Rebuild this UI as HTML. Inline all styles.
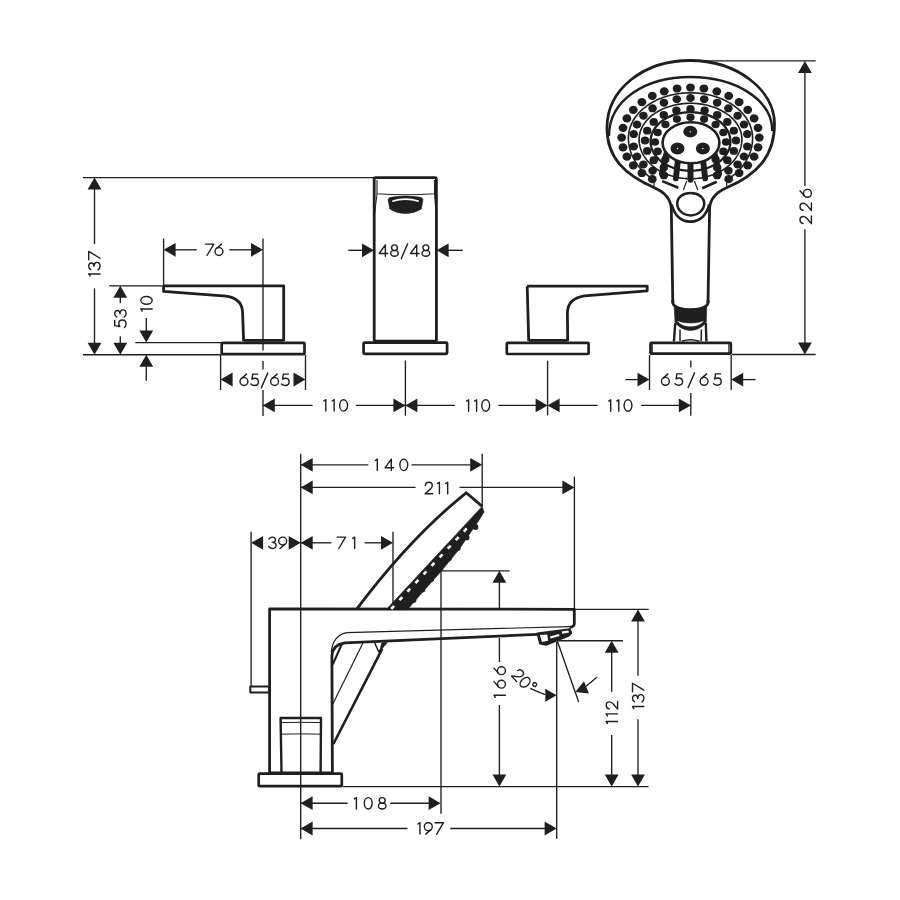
<!DOCTYPE html>
<html><head><meta charset="utf-8"><style>
html,body{margin:0;padding:0;background:#fff;}
svg{display:block;}
text{font-family:"Liberation Sans",sans-serif;fill:#1f1f1f;}
</style></head><body>
<svg width="900" height="900" viewBox="0 0 900 900" stroke-linecap="butt" stroke-linejoin="round">
<rect width="900" height="900" fill="#fff"/>
<line x1="83.0" y1="177.6" x2="374.0" y2="177.6" stroke-width="1.35" stroke="#1f1f1f"/>
<line x1="83.0" y1="354.7" x2="221.0" y2="354.7" stroke-width="1.35" stroke="#1f1f1f"/>
<line x1="94.5" y1="189.0" x2="94.5" y2="244.2" stroke-width="1.35" stroke="#1f1f1f"/>
<line x1="94.5" y1="288.3" x2="94.5" y2="343.0" stroke-width="1.35" stroke="#1f1f1f"/>
<polygon points="94.5,177.6 87.6,189.6 101.4,189.6" fill="#1f1f1f"/>
<polygon points="94.5,354.7 87.6,342.7 101.4,342.7" fill="#1f1f1f"/>
<g transform="translate(94.40,263.70) rotate(-90) translate(0,5.70)" fill="none" stroke="#1f1f1f" stroke-width="1.4" stroke-linecap="round" stroke-linejoin="round"><g transform="translate(-12.25,0)"><path d="M0,-10.1 L2,-11.4 L2,0"/></g><g transform="translate(-6.10,0)"><path d="M0.3,-9.4 C0.9,-10.8 2.2,-11.4 3.7,-11.4 C5.6,-11.4 6.8,-10.1 6.8,-8.6 C6.8,-7 5.5,-6.1 3.5,-6.1 C5.9,-6.1 7.4,-4.8 7.4,-3.1 C7.4,-1.1 5.8,0 3.7,0 C2,0 0.7,-0.8 0,-2.1"/></g><g transform="translate(3.85,0)"><path d="M0,-11.4 L8.4,-11.4 L1.6,0"/></g></g>
<line x1="109.2" y1="285.8" x2="164.0" y2="285.8" stroke-width="1.35" stroke="#1f1f1f"/>
<line x1="120.3" y1="297.0" x2="120.3" y2="303.3" stroke-width="1.35" stroke="#1f1f1f"/>
<line x1="120.3" y1="336.3" x2="120.3" y2="343.0" stroke-width="1.35" stroke="#1f1f1f"/>
<polygon points="120.3,285.8 113.4,297.8 127.2,297.8" fill="#1f1f1f"/>
<polygon points="120.3,354.7 113.4,342.7 127.2,342.7" fill="#1f1f1f"/>
<g transform="translate(120.40,318.70) rotate(-90) translate(0,5.70)" fill="none" stroke="#1f1f1f" stroke-width="1.4" stroke-linecap="round" stroke-linejoin="round"><g transform="translate(-8.85,0)"><path d="M7,-11.4 L1.9,-11.4 L1.1,-6.3 C1.9,-6.9 3,-7.3 4,-7.3 C6.1,-7.3 7.6,-5.8 7.6,-3.7 C7.6,-1.5 6,0 3.8,0 C2.3,0 1,-0.6 0,-1.6"/></g><g transform="translate(1.45,0)"><path d="M0.3,-9.4 C0.9,-10.8 2.2,-11.4 3.7,-11.4 C5.6,-11.4 6.8,-10.1 6.8,-8.6 C6.8,-7 5.5,-6.1 3.5,-6.1 C5.9,-6.1 7.4,-4.8 7.4,-3.1 C7.4,-1.1 5.8,0 3.7,0 C2,0 0.7,-0.8 0,-2.1"/></g></g>
<line x1="135.3" y1="342.6" x2="221.0" y2="342.6" stroke-width="1.35" stroke="#1f1f1f"/>
<line x1="146.3" y1="318.0" x2="146.3" y2="331.0" stroke-width="1.35" stroke="#1f1f1f"/>
<polygon points="146.3,342.6 139.4,330.6 153.2,330.6" fill="#1f1f1f"/>
<polygon points="146.3,354.7 139.4,366.7 153.2,366.7" fill="#1f1f1f"/>
<line x1="146.3" y1="366.0" x2="146.3" y2="380.8" stroke-width="1.35" stroke="#1f1f1f"/>
<g transform="translate(146.50,303.70) rotate(-90) translate(0,5.70)" fill="none" stroke="#1f1f1f" stroke-width="1.4" stroke-linecap="round" stroke-linejoin="round"><g transform="translate(-7.25,0)"><path d="M0,-10.1 L2,-11.4 L2,0"/></g><g transform="translate(-0.55,0)"><ellipse cx="3.9" cy="-5.7" rx="3.9" ry="5.7"/></g></g>
<line x1="163.6" y1="238.5" x2="163.6" y2="286.0" stroke-width="1.35" stroke="#1f1f1f"/>
<line x1="263.0" y1="238.5" x2="263.0" y2="350.6" stroke-width="1.35" stroke="#1f1f1f"/>
<line x1="263.0" y1="361.0" x2="263.0" y2="369.4" stroke-width="1.35" stroke="#1f1f1f"/>
<line x1="263.0" y1="390.0" x2="263.0" y2="416.0" stroke-width="1.35" stroke="#1f1f1f"/>
<polygon points="163.6,249.8 175.6,242.9 175.6,256.7" fill="#1f1f1f"/>
<polygon points="263.0,249.8 251.0,242.9 251.0,256.7" fill="#1f1f1f"/>
<line x1="175.0" y1="249.8" x2="196.8" y2="249.8" stroke-width="1.35" stroke="#1f1f1f"/>
<line x1="229.3" y1="249.8" x2="251.5" y2="249.8" stroke-width="1.35" stroke="#1f1f1f"/>
<g transform="translate(214.20,255.50)" fill="none" stroke="#1f1f1f" stroke-width="1.4" stroke-linecap="round" stroke-linejoin="round"><g transform="translate(-8.75,0)"><path d="M0,-11.4 L8.4,-11.4 L1.6,0"/></g><g transform="translate(0.75,0)"><path d="M6.6,-11.4 L1.42,-6.94"/><circle cx="4.0" cy="-3.95" r="3.95"/></g></g>
<path d="M163.6,285.8 L283.7,285.8 L283.7,341 M163.6,285.8 L163.6,291.4 L226,296.2 Q242.4,298.5 242.6,313 L243.6,341 M243.6,340.3 L283.7,340.3" stroke="#1f1f1f" stroke-width="2.8" fill="none" />
<rect x="221.7" y="342.8" width="82.8" height="11.4" rx="1" fill="none" stroke="#1f1f1f" stroke-width="2.7"/>
<line x1="220.6" y1="355.0" x2="220.6" y2="390.0" stroke-width="1.35" stroke="#1f1f1f"/>
<line x1="305.5" y1="355.0" x2="305.5" y2="390.0" stroke-width="1.35" stroke="#1f1f1f"/>
<polygon points="220.6,379.5 232.6,372.6 232.6,386.4" fill="#1f1f1f"/>
<polygon points="305.5,379.5 293.5,372.6 293.5,386.4" fill="#1f1f1f"/>
<g transform="translate(264.50,385.50)" fill="none" stroke="#1f1f1f" stroke-width="1.4" stroke-linecap="round" stroke-linejoin="round"><g transform="translate(-24.55,0)"><path d="M6.6,-11.4 L1.42,-6.94"/><circle cx="4.0" cy="-3.95" r="3.95"/></g><g transform="translate(-13.68,0)"><path d="M7,-11.4 L1.9,-11.4 L1.1,-6.3 C1.9,-6.9 3,-7.3 4,-7.3 C6.1,-7.3 7.6,-5.8 7.6,-3.7 C7.6,-1.5 6,0 3.8,0 C2.3,0 1,-0.6 0,-1.6"/></g><g transform="translate(-3.20,0)"><path d="M0,2.4 L6.4,-12.4"/></g><g transform="translate(6.07,0)"><path d="M6.6,-11.4 L1.42,-6.94"/><circle cx="4.0" cy="-3.95" r="3.95"/></g><g transform="translate(16.95,0)"><path d="M7,-11.4 L1.9,-11.4 L1.1,-6.3 C1.9,-6.9 3,-7.3 4,-7.3 C6.1,-7.3 7.6,-5.8 7.6,-3.7 C7.6,-1.5 6,0 3.8,0 C2.3,0 1,-0.6 0,-1.6"/></g></g>
<line x1="262.6" y1="405.4" x2="312.6" y2="405.4" stroke-width="1.35" stroke="#1f1f1f"/>
<line x1="355.8" y1="405.4" x2="454.9" y2="405.4" stroke-width="1.35" stroke="#1f1f1f"/>
<line x1="498.3" y1="405.4" x2="597.7" y2="405.4" stroke-width="1.35" stroke="#1f1f1f"/>
<line x1="641.0" y1="405.4" x2="690.8" y2="405.4" stroke-width="1.35" stroke="#1f1f1f"/>
<polygon points="262.8,405.4 274.8,398.5 274.8,412.3" fill="#1f1f1f"/>
<polygon points="405.4,405.4 393.4,398.5 393.4,412.3" fill="#1f1f1f"/>
<polygon points="405.4,405.4 417.4,398.5 417.4,412.3" fill="#1f1f1f"/>
<polygon points="547.6,405.4 535.6,398.5 535.6,412.3" fill="#1f1f1f"/>
<polygon points="547.6,405.4 559.6,398.5 559.6,412.3" fill="#1f1f1f"/>
<polygon points="690.8,405.4 678.8,398.5 678.8,412.3" fill="#1f1f1f"/>
<g transform="translate(335.65,411.10)" fill="none" stroke="#1f1f1f" stroke-width="1.4" stroke-linecap="round" stroke-linejoin="round"><g transform="translate(-11.85,0)"><path d="M0,-10.1 L2,-11.4 L2,0"/></g><g transform="translate(-3.50,0)"><path d="M0,-10.1 L2,-11.4 L2,0"/></g><g transform="translate(4.05,0)"><ellipse cx="3.9" cy="-5.7" rx="3.9" ry="5.7"/></g></g>
<g transform="translate(478.10,411.20)" fill="none" stroke="#1f1f1f" stroke-width="1.4" stroke-linecap="round" stroke-linejoin="round"><g transform="translate(-11.50,0)"><path d="M0,-10.1 L2,-11.4 L2,0"/></g><g transform="translate(-3.50,0)"><path d="M0,-10.1 L2,-11.4 L2,0"/></g><g transform="translate(3.70,0)"><ellipse cx="3.9" cy="-5.7" rx="3.9" ry="5.7"/></g></g>
<g transform="translate(620.30,411.20)" fill="none" stroke="#1f1f1f" stroke-width="1.4" stroke-linecap="round" stroke-linejoin="round"><g transform="translate(-11.60,0)"><path d="M0,-10.1 L2,-11.4 L2,0"/></g><g transform="translate(-3.50,0)"><path d="M0,-10.1 L2,-11.4 L2,0"/></g><g transform="translate(3.80,0)"><ellipse cx="3.9" cy="-5.7" rx="3.9" ry="5.7"/></g></g>
<path d="M374.2,341.3 L374.2,179 Q374.2,177.6 375.6,177.6 L435,177.6 Q436.4,177.6 436.4,179 L436.4,341.3" stroke="#1f1f1f" stroke-width="2.8" fill="none" />
<path d="M377,180 L377,193.8 Q405.3,195.6 434.5,193.8 L434.5,180" stroke="#1f1f1f" stroke-width="1.1" fill="none" />
<path d="M377,193.8 L374.6,214 M434.5,193.8 L436,214" stroke="#1f1f1f" stroke-width="1.0" fill="none" />
<path d="M388,199.5 Q388.5,197.6 392,197.1 Q405.5,195 419,197.1 Q422.5,197.6 423,199.5 L422.3,203.5 L421.3,209 Q414,213.6 405.5,213.6 Q397,213.6 389.8,209 L388.8,203.5 Z" stroke="#1f1f1f" stroke-width="0.6" fill="#1f1f1f" />
<path d="M392.3,201.3 Q405.5,196.8 418.7,201.3" stroke="#fff" stroke-width="1.7" fill="none" />
<rect x="363.6" y="342.6" width="83.5" height="11.2" rx="1" fill="none" stroke="#1f1f1f" stroke-width="2.7"/>
<path d="M374.2,341 L436.4,341" stroke="#1f1f1f" stroke-width="2.7" fill="none" />
<line x1="348.2" y1="250.3" x2="363.0" y2="250.3" stroke-width="1.35" stroke="#1f1f1f"/>
<line x1="448.0" y1="250.3" x2="462.8" y2="250.3" stroke-width="1.35" stroke="#1f1f1f"/>
<polygon points="374.0,250.3 362.0,243.4 362.0,257.2" fill="#1f1f1f"/>
<polygon points="436.6,250.3 448.6,243.4 448.6,257.2" fill="#1f1f1f"/>
<g transform="translate(404.40,256.30)" fill="none" stroke="#1f1f1f" stroke-width="1.4" stroke-linecap="round" stroke-linejoin="round"><g transform="translate(-25.25,0)"><path d="M6.2,-11.4 L0,-2.8 L8.6,-2.8 M6.2,-11.4 L6.2,0"/></g><g transform="translate(-13.72,0)"><ellipse cx="3.8" cy="-8.55" rx="2.95" ry="2.85"/><ellipse cx="3.8" cy="-2.95" rx="3.8" ry="2.95"/></g><g transform="translate(-3.20,0)"><path d="M0,2.4 L6.4,-12.4"/></g><g transform="translate(6.13,0)"><path d="M6.2,-11.4 L0,-2.8 L8.6,-2.8 M6.2,-11.4 L6.2,0"/></g><g transform="translate(17.65,0)"><ellipse cx="3.8" cy="-8.55" rx="2.95" ry="2.85"/><ellipse cx="3.8" cy="-2.95" rx="3.8" ry="2.95"/></g></g>
<line x1="405.4" y1="360.5" x2="405.4" y2="415.7" stroke-width="1.35" stroke="#1f1f1f"/>
<path d="M527.2,286.1 L647.2,286.1 L647.2,290.8 L584.4,295.9 Q567.6,298.5 567.4,313 L567.7,341 M527.2,286.1 L528.7,341 M528.7,340.3 L567.7,340.3" stroke="#1f1f1f" stroke-width="2.8" fill="none" />
<rect x="506.8" y="342.8" width="81.8" height="11.2" rx="1" fill="none" stroke="#1f1f1f" stroke-width="2.7"/>
<line x1="547.6" y1="360.7" x2="547.6" y2="415.4" stroke-width="1.35" stroke="#1f1f1f"/>
<rect x="650.5" y="342.9" width="80.3" height="10.8" rx="1" fill="none" stroke="#1f1f1f" stroke-width="2.7"/>
<line x1="652.3" y1="343.5" x2="652.3" y2="353.5" stroke-width="1" stroke="#1f1f1f"/>
<line x1="728.8" y1="343.5" x2="728.8" y2="353.5" stroke-width="1" stroke="#1f1f1f"/>
<line x1="731.9" y1="354.5" x2="815.7" y2="354.5" stroke-width="1.35" stroke="#1f1f1f"/>
<line x1="649.5" y1="355.0" x2="649.5" y2="390.0" stroke-width="1.35" stroke="#1f1f1f"/>
<line x1="731.2" y1="355.0" x2="731.2" y2="390.0" stroke-width="1.35" stroke="#1f1f1f"/>
<line x1="625.4" y1="379.6" x2="638.4" y2="379.6" stroke-width="1.35" stroke="#1f1f1f"/>
<line x1="742.9" y1="379.6" x2="755.6" y2="379.6" stroke-width="1.35" stroke="#1f1f1f"/>
<polygon points="649.5,379.6 637.5,372.7 637.5,386.5" fill="#1f1f1f"/>
<polygon points="731.2,379.6 743.2,372.7 743.2,386.5" fill="#1f1f1f"/>
<g transform="translate(691.30,385.30)" fill="none" stroke="#1f1f1f" stroke-width="1.4" stroke-linecap="round" stroke-linejoin="round"><g transform="translate(-29.90,0)"><path d="M6.6,-11.4 L1.42,-6.94"/><circle cx="4.0" cy="-3.95" r="3.95"/></g><g transform="translate(-16.35,0)"><path d="M7,-11.4 L1.9,-11.4 L1.1,-6.3 C1.9,-6.9 3,-7.3 4,-7.3 C6.1,-7.3 7.6,-5.8 7.6,-3.7 C7.6,-1.5 6,0 3.8,0 C2.3,0 1,-0.6 0,-1.6"/></g><g transform="translate(-3.20,0)"><path d="M0,2.4 L6.4,-12.4"/></g><g transform="translate(8.75,0)"><path d="M6.6,-11.4 L1.42,-6.94"/><circle cx="4.0" cy="-3.95" r="3.95"/></g><g transform="translate(22.30,0)"><path d="M7,-11.4 L1.9,-11.4 L1.1,-6.3 C1.9,-6.9 3,-7.3 4,-7.3 C6.1,-7.3 7.6,-5.8 7.6,-3.7 C7.6,-1.5 6,0 3.8,0 C2.3,0 1,-0.6 0,-1.6"/></g></g>
<line x1="690.8" y1="360.4" x2="690.8" y2="367.4" stroke-width="1.35" stroke="#1f1f1f"/>
<line x1="690.8" y1="393.1" x2="690.8" y2="415.7" stroke-width="1.35" stroke="#1f1f1f"/>
<line x1="688.0" y1="60.9" x2="815.7" y2="60.9" stroke-width="1.35" stroke="#1f1f1f"/>
<line x1="804.9" y1="72.5" x2="804.9" y2="186.0" stroke-width="1.35" stroke="#1f1f1f"/>
<line x1="804.9" y1="229.3" x2="804.9" y2="343.0" stroke-width="1.35" stroke="#1f1f1f"/>
<polygon points="804.9,60.9 798.0,72.9 811.8,72.9" fill="#1f1f1f"/>
<polygon points="804.9,354.4 798.0,342.4 811.8,342.4" fill="#1f1f1f"/>
<g transform="translate(805.70,206.50) rotate(-90) translate(0,5.70)" fill="none" stroke="#1f1f1f" stroke-width="1.4" stroke-linecap="round" stroke-linejoin="round"><g transform="translate(-17.15,0)"><path d="M0.2,-8.3 C0.4,-10.5 2,-11.4 3.8,-11.4 C5.8,-11.4 7.2,-10 7.2,-8.1 C7.2,-6.8 6.5,-5.8 5.6,-4.8 L0,0 L7.6,0"/></g><g transform="translate(-4.00,0)"><path d="M0.2,-8.3 C0.4,-10.5 2,-11.4 3.8,-11.4 C5.8,-11.4 7.2,-10 7.2,-8.1 C7.2,-6.8 6.5,-5.8 5.6,-4.8 L0,0 L7.6,0"/></g><g transform="translate(9.15,0)"><path d="M6.6,-11.4 L1.42,-6.94"/><circle cx="4.0" cy="-3.95" r="3.95"/></g></g>
<path d="M672.8,300 L672.8,303 C674,308 684,309.7 690.5,309.7 C697,309.7 707,308 708,303 L708,300" stroke="#1f1f1f" stroke-width="2.8" fill="none" />
<path d="M674.2,306.8 C680,309.8 685,310.8 690.5,310.8 C696,310.8 701,309.8 706.7,306.8 L706.3,322 C703,327 697,330.4 690.5,330.4 C684,330.4 678,327 675,322 Z" stroke="#1f1f1f" stroke-width="0.6" fill="#1f1f1f" />
<path d="M677.8,321.2 C681,322.8 686,323.4 690.6,323.4 C695.2,323.4 700,322.8 703.3,321.2 C700,325 695.5,326.2 690.6,326.2 C685.7,326.2 681,325 677.8,321.2 Z" stroke="#fff" stroke-width="0.4" fill="#fff" />
<path d="M675.3,323 L673.9,341.5 M705.8,323 L706.4,341.5" stroke="#1f1f1f" stroke-width="2.4" fill="none" />
<path d="M680,329.5 L680,341.5 M701.4,329.5 L701.1,341.5" stroke="#1f1f1f" stroke-width="1.5" fill="none" />
<path d="M681.7,341.2 Q690.6,338.2 699.4,341.2" stroke="#1f1f1f" stroke-width="1.5" fill="none" />
<path d="M672.8,303 L671.3,208 C670.5,199 666,193 655,188 C625,175 607,158 607,128 C607,88 645,60.5 690,60.5 C737,60.5 774.5,90 774.5,124 C774.5,156 757,175 726,188 C715,193 710.2,199 709.6,208 L708,303" stroke="#1f1f1f" stroke-width="2.8" fill="none" />
<path d="M671.6,204.5 C673.8,213 679.5,221.6 690.4,221.6 C701.3,221.6 707,213 709.3,204.5" stroke="#1f1f1f" stroke-width="2.8" fill="none" />
<path d="M609,136 C609,100 645,77 690.5,77 C736,77 772.3,100 772.3,131" stroke="#1f1f1f" stroke-width="2.4" fill="none" />
<ellipse cx="690.5" cy="87.5" rx="4.4" ry="4.1" fill="#1f1f1f"/>
<ellipse cx="703.9" cy="88.5" rx="4.4" ry="4.1" fill="#1f1f1f"/>
<ellipse cx="716.8" cy="91.3" rx="4.4" ry="4.1" fill="#1f1f1f"/>
<ellipse cx="728.7" cy="95.9" rx="4.4" ry="4.1" fill="#1f1f1f"/>
<ellipse cx="739.1" cy="102.2" rx="4.4" ry="4.1" fill="#1f1f1f"/>
<ellipse cx="747.7" cy="109.8" rx="4.4" ry="4.1" fill="#1f1f1f"/>
<ellipse cx="754.1" cy="118.4" rx="4.4" ry="4.1" fill="#1f1f1f"/>
<ellipse cx="758.0" cy="127.8" rx="4.4" ry="4.1" fill="#1f1f1f"/>
<ellipse cx="759.3" cy="137.6" rx="4.4" ry="4.1" fill="#1f1f1f"/>
<ellipse cx="758.0" cy="147.4" rx="4.4" ry="4.1" fill="#1f1f1f"/>
<ellipse cx="754.1" cy="156.7" rx="4.4" ry="4.1" fill="#1f1f1f"/>
<ellipse cx="747.7" cy="165.4" rx="4.4" ry="4.1" fill="#1f1f1f"/>
<ellipse cx="739.1" cy="173.0" rx="4.4" ry="4.1" fill="#1f1f1f"/>
<ellipse cx="728.7" cy="179.2" rx="4.4" ry="4.1" fill="#1f1f1f"/>
<ellipse cx="652.3" cy="179.2" rx="4.4" ry="4.1" fill="#1f1f1f"/>
<ellipse cx="641.9" cy="173.0" rx="4.4" ry="4.1" fill="#1f1f1f"/>
<ellipse cx="633.3" cy="165.4" rx="4.4" ry="4.1" fill="#1f1f1f"/>
<ellipse cx="626.9" cy="156.7" rx="4.4" ry="4.1" fill="#1f1f1f"/>
<ellipse cx="623.0" cy="147.4" rx="4.4" ry="4.1" fill="#1f1f1f"/>
<ellipse cx="621.7" cy="137.6" rx="4.4" ry="4.1" fill="#1f1f1f"/>
<ellipse cx="623.0" cy="127.8" rx="4.4" ry="4.1" fill="#1f1f1f"/>
<ellipse cx="626.9" cy="118.4" rx="4.4" ry="4.1" fill="#1f1f1f"/>
<ellipse cx="633.3" cy="109.8" rx="4.4" ry="4.1" fill="#1f1f1f"/>
<ellipse cx="641.9" cy="102.2" rx="4.4" ry="4.1" fill="#1f1f1f"/>
<ellipse cx="652.3" cy="95.9" rx="4.4" ry="4.1" fill="#1f1f1f"/>
<ellipse cx="664.2" cy="91.3" rx="4.4" ry="4.1" fill="#1f1f1f"/>
<ellipse cx="677.1" cy="88.5" rx="4.4" ry="4.1" fill="#1f1f1f"/>
<ellipse cx="690.5" cy="98.0" rx="4.3" ry="4.0" fill="#1f1f1f"/>
<ellipse cx="704.2" cy="99.2" rx="4.3" ry="4.0" fill="#1f1f1f"/>
<ellipse cx="717.1" cy="102.7" rx="4.3" ry="4.0" fill="#1f1f1f"/>
<ellipse cx="728.4" cy="108.3" rx="4.3" ry="4.0" fill="#1f1f1f"/>
<ellipse cx="737.6" cy="115.7" rx="4.3" ry="4.0" fill="#1f1f1f"/>
<ellipse cx="744.0" cy="124.5" rx="4.3" ry="4.0" fill="#1f1f1f"/>
<ellipse cx="747.3" cy="134.1" rx="4.3" ry="4.0" fill="#1f1f1f"/>
<ellipse cx="747.3" cy="146.4" rx="4.3" ry="4.0" fill="#1f1f1f"/>
<ellipse cx="744.0" cy="156.5" rx="4.3" ry="4.0" fill="#1f1f1f"/>
<ellipse cx="737.6" cy="164.4" rx="4.3" ry="4.0" fill="#1f1f1f"/>
<ellipse cx="728.4" cy="170.7" rx="4.3" ry="4.0" fill="#1f1f1f"/>
<ellipse cx="717.1" cy="175.3" rx="4.3" ry="4.0" fill="#1f1f1f"/>
<ellipse cx="663.9" cy="175.3" rx="4.3" ry="4.0" fill="#1f1f1f"/>
<ellipse cx="652.6" cy="170.7" rx="4.3" ry="4.0" fill="#1f1f1f"/>
<ellipse cx="643.4" cy="164.4" rx="4.3" ry="4.0" fill="#1f1f1f"/>
<ellipse cx="637.0" cy="156.5" rx="4.3" ry="4.0" fill="#1f1f1f"/>
<ellipse cx="633.7" cy="146.4" rx="4.3" ry="4.0" fill="#1f1f1f"/>
<ellipse cx="633.7" cy="134.1" rx="4.3" ry="4.0" fill="#1f1f1f"/>
<ellipse cx="637.0" cy="124.5" rx="4.3" ry="4.0" fill="#1f1f1f"/>
<ellipse cx="643.4" cy="115.7" rx="4.3" ry="4.0" fill="#1f1f1f"/>
<ellipse cx="652.6" cy="108.3" rx="4.3" ry="4.0" fill="#1f1f1f"/>
<ellipse cx="663.9" cy="102.7" rx="4.3" ry="4.0" fill="#1f1f1f"/>
<ellipse cx="676.8" cy="99.2" rx="4.3" ry="4.0" fill="#1f1f1f"/>
<ellipse cx="690.5" cy="108.9" rx="4.2" ry="3.9" fill="#1f1f1f"/>
<ellipse cx="704.6" cy="110.4" rx="4.2" ry="3.9" fill="#1f1f1f"/>
<ellipse cx="717.2" cy="114.9" rx="4.2" ry="3.9" fill="#1f1f1f"/>
<ellipse cx="727.3" cy="121.9" rx="4.2" ry="3.9" fill="#1f1f1f"/>
<ellipse cx="733.8" cy="130.7" rx="4.2" ry="3.9" fill="#1f1f1f"/>
<ellipse cx="736.0" cy="140.5" rx="4.2" ry="3.9" fill="#1f1f1f"/>
<ellipse cx="733.8" cy="150.9" rx="4.2" ry="3.9" fill="#1f1f1f"/>
<ellipse cx="727.3" cy="160.2" rx="4.2" ry="3.9" fill="#1f1f1f"/>
<ellipse cx="717.2" cy="167.6" rx="4.2" ry="3.9" fill="#1f1f1f"/>
<ellipse cx="663.8" cy="167.6" rx="4.2" ry="3.9" fill="#1f1f1f"/>
<ellipse cx="653.7" cy="160.2" rx="4.2" ry="3.9" fill="#1f1f1f"/>
<ellipse cx="647.2" cy="150.9" rx="4.2" ry="3.9" fill="#1f1f1f"/>
<ellipse cx="645.0" cy="140.5" rx="4.2" ry="3.9" fill="#1f1f1f"/>
<ellipse cx="647.2" cy="130.7" rx="4.2" ry="3.9" fill="#1f1f1f"/>
<ellipse cx="653.7" cy="121.9" rx="4.2" ry="3.9" fill="#1f1f1f"/>
<ellipse cx="663.8" cy="114.9" rx="4.2" ry="3.9" fill="#1f1f1f"/>
<ellipse cx="676.4" cy="110.4" rx="4.2" ry="3.9" fill="#1f1f1f"/>
<ellipse cx="690.5" cy="117.2" rx="4.1" ry="3.8" fill="#1f1f1f"/>
<ellipse cx="704.1" cy="119.1" rx="4.1" ry="3.8" fill="#1f1f1f"/>
<ellipse cx="715.6" cy="124.5" rx="4.1" ry="3.8" fill="#1f1f1f"/>
<ellipse cx="723.3" cy="132.5" rx="4.1" ry="3.8" fill="#1f1f1f"/>
<ellipse cx="726.0" cy="142.0" rx="4.1" ry="3.8" fill="#1f1f1f"/>
<ellipse cx="723.3" cy="151.4" rx="4.1" ry="3.8" fill="#1f1f1f"/>
<ellipse cx="715.6" cy="159.3" rx="4.1" ry="3.8" fill="#1f1f1f"/>
<ellipse cx="665.4" cy="159.3" rx="4.1" ry="3.8" fill="#1f1f1f"/>
<ellipse cx="657.7" cy="151.4" rx="4.1" ry="3.8" fill="#1f1f1f"/>
<ellipse cx="655.0" cy="142.0" rx="4.1" ry="3.8" fill="#1f1f1f"/>
<ellipse cx="657.7" cy="132.5" rx="4.1" ry="3.8" fill="#1f1f1f"/>
<ellipse cx="665.4" cy="124.5" rx="4.1" ry="3.8" fill="#1f1f1f"/>
<ellipse cx="676.9" cy="119.1" rx="4.1" ry="3.8" fill="#1f1f1f"/>
<line x1="690.50" y1="161.30" x2="690.50" y2="179.80" stroke="#1f1f1f" stroke-width="6" stroke-linecap="round"/>
<line x1="702.99" y1="159.32" x2="705.11" y2="178.24" stroke="#1f1f1f" stroke-width="6" stroke-linecap="round"/>
<line x1="678.05" y1="158.97" x2="675.89" y2="178.24" stroke="#1f1f1f" stroke-width="6" stroke-linecap="round"/>
<line x1="714.18" y1="152.23" x2="719.00" y2="173.46" stroke="#1f1f1f" stroke-width="6" stroke-linecap="round"/>
<line x1="667.03" y1="151.32" x2="662.00" y2="173.46" stroke="#1f1f1f" stroke-width="6" stroke-linecap="round"/>
<path d="M654.00,179.66 L651.93,178.36 L649.92,176.99 L647.99,175.54 L646.13,174.03 L644.35,172.46 L642.65,170.83 L641.04,169.14 L639.51,167.39 L638.07,165.60 L636.72,163.75 L635.47,161.86 L634.31,159.93 L633.25,157.96 L632.29,155.95 L631.44,153.91 L630.69,151.85 L630.04,149.76 L629.50,147.65 L629.07,145.52 L628.74,143.38 L628.52,141.23 L628.41,139.08 L628.41,137.05 L628.52,135.16 L628.74,133.28 L629.07,131.40 L629.50,129.53 L630.04,127.68 L630.69,125.84 L631.44,124.03 L632.29,122.24 L633.25,120.48 L634.31,118.75 L635.47,117.06 L636.72,115.40 L638.07,113.78 L639.51,112.20 L641.04,110.67 L642.65,109.19 L644.35,107.76 L646.13,106.38 L647.99,105.05 L649.92,103.78 L651.93,102.58 L654.00,101.43 L656.13,100.35 L658.33,99.34 L660.58,98.39 L662.89,97.51 L665.24,96.71 L667.64,95.97 L670.08,95.31 L672.55,94.73 L675.06,94.22 L677.59,93.79 L680.14,93.43 L682.72,93.16 L685.30,92.96 L687.90,92.84 L690.50,92.80 L693.10,92.84 L695.70,92.96 L698.28,93.16 L700.86,93.43 L703.41,93.79 L705.94,94.22 L708.45,94.73 L710.92,95.31 L713.36,95.97 L715.76,96.71 L718.11,97.51 L720.42,98.39 L722.67,99.34 L724.87,100.35 L727.00,101.43 L729.07,102.58 L731.08,103.78 L733.01,105.05 L734.87,106.38 L736.65,107.76 L738.35,109.19 L739.96,110.67 L741.49,112.20 L742.93,113.78 L744.28,115.40 L745.53,117.06 L746.69,118.75 L747.75,120.48 L748.71,122.24 L749.56,124.03 L750.31,125.84 L750.96,127.68 L751.50,129.53 L751.93,131.40 L752.26,133.28 L752.48,135.16 L752.59,137.05 L752.59,139.08 L752.48,141.23 L752.26,143.38 L751.93,145.52 L751.50,147.65 L750.96,149.76 L750.31,151.85 L749.56,153.91 L748.71,155.95 L747.75,157.96 L746.69,159.93 L745.53,161.86 L744.28,163.75 L742.93,165.60 L741.49,167.39 L739.96,169.14 L738.35,170.83 L736.65,172.46 L734.87,174.03 L733.01,175.54 L731.08,176.99 L729.07,178.36 L727.00,179.66" stroke="#1f1f1f" stroke-width="1.6" fill="none" />
<path d="M690.50,103.30 L692.29,103.32 L694.09,103.39 L695.87,103.50 L697.65,103.65 L699.43,103.85 L701.19,104.09 L702.93,104.37 L704.67,104.69 L706.38,105.06 L708.08,105.47 L709.75,105.92 L711.41,106.41 L713.03,106.94 L714.63,107.51 L716.20,108.12 L717.74,108.77 L719.24,109.45 L720.71,110.18 L722.14,110.93 L723.54,111.72 L724.89,112.55 L726.21,113.40 L727.47,114.29 L728.70,115.21 L729.87,116.16 L731.00,117.14 L732.08,118.14 L733.11,119.17 L734.09,120.22 L735.01,121.30 L735.88,122.40 L736.70,123.52 L737.46,124.66 L738.16,125.81 L738.80,126.99 L739.38,128.18 L739.91,129.38 L740.37,130.59 L740.78,131.82 L741.12,133.05 L741.40,134.29 L741.62,135.54 L741.77,136.79 L741.87,138.04 L741.90,139.30 L741.87,140.68 L741.77,142.05 L741.62,143.42 L741.40,144.78 L741.12,146.14 L740.78,147.49 L740.37,148.83 L739.91,150.16 L739.38,151.48 L738.80,152.78 L738.16,154.06 L737.46,155.33 L736.70,156.57 L735.88,157.80 L735.01,159.00 L734.09,160.18 L733.11,161.33 L732.08,162.46 L731.00,163.56 L729.87,164.63 L728.70,165.66 L727.47,166.67 L726.21,167.64 L724.89,168.58 L723.54,169.48 L722.14,170.35 L720.71,171.18 L719.24,171.96 L717.74,172.71 L716.20,173.42 L714.63,174.09 L713.03,174.71 L711.41,175.29 L709.75,175.83 L708.08,176.32 L706.38,176.77 L704.67,177.17 L702.93,177.53 L701.19,177.84 L699.43,178.10 L697.65,178.32 L695.87,178.48 L694.09,178.60 L692.29,178.68 L690.50,178.70 L688.71,178.68 L686.91,178.60 L685.13,178.48 L683.35,178.32 L681.57,178.10 L679.81,177.84 L678.07,177.53 L676.33,177.17 L674.62,176.77 L672.92,176.32 L671.25,175.83 L669.59,175.29 L667.97,174.71 L666.37,174.09 L664.80,173.42 L663.26,172.71 L661.76,171.96 L660.29,171.18 L658.86,170.35 L657.46,169.48 L656.11,168.58 L654.79,167.64 L653.53,166.67 L652.30,165.66 L651.13,164.63 L650.00,163.56 L648.92,162.46 L647.89,161.33 L646.91,160.18 L645.99,159.00 L645.12,157.80 L644.30,156.57 L643.54,155.33 L642.84,154.06 L642.20,152.78 L641.62,151.48 L641.09,150.16 L640.63,148.83 L640.22,147.49 L639.88,146.14 L639.60,144.78 L639.38,143.42 L639.23,142.05 L639.13,140.68 L639.10,139.30 L639.13,138.04 L639.23,136.79 L639.38,135.54 L639.60,134.29 L639.88,133.05 L640.22,131.82 L640.63,130.59 L641.09,129.38 L641.62,128.18 L642.20,126.99 L642.84,125.81 L643.54,124.66 L644.30,123.52 L645.12,122.40 L645.99,121.30 L646.91,120.22 L647.89,119.17 L648.92,118.14 L650.00,117.14 L651.13,116.16 L652.30,115.21 L653.53,114.29 L654.79,113.40 L656.11,112.55 L657.46,111.72 L658.86,110.93 L660.29,110.18 L661.76,109.45 L663.26,108.77 L664.80,108.12 L666.37,107.51 L667.97,106.94 L669.59,106.41 L671.25,105.92 L672.92,105.47 L674.62,105.06 L676.33,104.69 L678.07,104.37 L679.81,104.09 L681.57,103.85 L683.35,103.65 L685.13,103.50 L686.91,103.39 L688.71,103.32 Z" stroke="#1f1f1f" stroke-width="1.6" fill="none" />
<path d="M690.50,112.20 L691.89,112.22 L693.28,112.27 L694.67,112.36 L696.05,112.49 L697.43,112.65 L698.80,112.84 L700.15,113.07 L701.50,113.34 L702.83,113.63 L704.15,113.97 L705.45,114.33 L706.73,114.73 L707.99,115.17 L709.23,115.63 L710.45,116.13 L711.64,116.65 L712.81,117.21 L713.95,117.80 L715.06,118.41 L716.15,119.05 L717.20,119.73 L718.22,120.42 L719.20,121.15 L720.15,121.89 L721.07,122.67 L721.94,123.46 L722.78,124.28 L723.58,125.12 L724.34,125.97 L725.05,126.85 L725.73,127.74 L726.36,128.66 L726.95,129.58 L727.49,130.52 L727.99,131.48 L728.45,132.45 L728.85,133.42 L729.21,134.41 L729.53,135.41 L729.79,136.41 L730.01,137.42 L730.18,138.44 L730.30,139.46 L730.38,140.48 L730.40,141.50 L730.38,142.52 L730.30,143.54 L730.18,144.55 L730.01,145.56 L729.79,146.57 L729.53,147.57 L729.21,148.56 L728.85,149.55 L728.45,150.52 L727.99,151.49 L727.49,152.44 L726.95,153.38 L726.36,154.30 L725.73,155.21 L725.05,156.10 L724.34,156.97 L723.58,157.83 L722.78,158.66 L721.94,159.48 L721.07,160.27 L720.15,161.04 L719.20,161.78 L718.22,162.50 L717.20,163.20 L716.15,163.87 L715.06,164.51 L713.95,165.12 L712.81,165.71 L711.64,166.26 L710.45,166.79 L709.23,167.28 L707.99,167.74 L706.73,168.18 L705.45,168.57 L704.15,168.94 L702.83,169.27 L701.50,169.57 L700.15,169.83 L698.80,170.06 L697.43,170.26 L696.05,170.42 L694.67,170.54 L693.28,170.63 L691.89,170.68 L690.50,170.70 L689.11,170.68 L687.72,170.63 L686.33,170.54 L684.95,170.42 L683.57,170.26 L682.20,170.06 L680.85,169.83 L679.50,169.57 L678.17,169.27 L676.85,168.94 L675.55,168.57 L674.27,168.18 L673.01,167.74 L671.77,167.28 L670.55,166.79 L669.36,166.26 L668.19,165.71 L667.05,165.12 L665.94,164.51 L664.85,163.87 L663.80,163.20 L662.78,162.50 L661.80,161.78 L660.85,161.04 L659.93,160.27 L659.06,159.48 L658.22,158.66 L657.42,157.83 L656.66,156.97 L655.95,156.10 L655.27,155.21 L654.64,154.30 L654.05,153.38 L653.51,152.44 L653.01,151.49 L652.55,150.52 L652.15,149.55 L651.79,148.56 L651.47,147.57 L651.21,146.57 L650.99,145.56 L650.82,144.55 L650.70,143.54 L650.62,142.52 L650.60,141.50 L650.62,140.48 L650.70,139.46 L650.82,138.44 L650.99,137.42 L651.21,136.41 L651.47,135.41 L651.79,134.41 L652.15,133.42 L652.55,132.45 L653.01,131.48 L653.51,130.52 L654.05,129.58 L654.64,128.66 L655.27,127.74 L655.95,126.85 L656.66,125.97 L657.42,125.12 L658.22,124.28 L659.06,123.46 L659.93,122.67 L660.85,121.89 L661.80,121.15 L662.78,120.42 L663.80,119.73 L664.85,119.05 L665.94,118.41 L667.05,117.80 L668.19,117.21 L669.36,116.65 L670.55,116.13 L671.77,115.63 L673.01,115.17 L674.27,114.73 L675.55,114.33 L676.85,113.97 L678.17,113.63 L679.50,113.34 L680.85,113.07 L682.20,112.84 L683.57,112.65 L684.95,112.49 L686.33,112.36 L687.72,112.27 L689.11,112.22 Z" stroke="#1f1f1f" stroke-width="2.3" fill="none" />
<ellipse cx="691" cy="142.8" rx="28.4" ry="20.5" fill="#fff" stroke="#1f1f1f" stroke-width="2.6"/>
<ellipse cx="690.3" cy="131.7" rx="7" ry="5.9" fill="#1f1f1f"/>
<circle cx="690.3" cy="131.7" r="0.7" fill="#fff"/>
<ellipse cx="677.5" cy="148.5" rx="7" ry="5.9" fill="#1f1f1f"/>
<circle cx="677.5" cy="148.5" r="0.7" fill="#fff"/>
<ellipse cx="702.9" cy="148.5" rx="7" ry="5.9" fill="#1f1f1f"/>
<circle cx="702.9" cy="148.5" r="0.7" fill="#fff"/>
<path d="M662.2,181.1 L678.3,187.8 M702.2,188.3 L716.7,181.7" stroke="#1f1f1f" stroke-width="2.6" fill="none" />
<path d="M686.7,181.1 L683.3,190 M694.4,181 L697.8,190 M654.4,177.5 L654,186 M726.7,178 L726.7,186" stroke="#1f1f1f" stroke-width="1.2" fill="none" />
<path d="M690.6,193 C698.4,193 704.2,197.5 704.2,203.5 C704.2,210 697.8,215.4 690.6,215.4 C683.4,215.4 677.2,210 677.2,203.5 C677.2,197.5 682.8,193 690.6,193 Z" stroke="#1f1f1f" stroke-width="2.5" fill="none" />
<line x1="300.7" y1="453.7" x2="300.7" y2="839.3" stroke-width="1.35" stroke="#1f1f1f"/>
<line x1="301.0" y1="464.8" x2="368.3" y2="464.8" stroke-width="1.35" stroke="#1f1f1f"/>
<line x1="411.5" y1="464.8" x2="470.7" y2="464.8" stroke-width="1.35" stroke="#1f1f1f"/>
<polygon points="300.7,464.8 312.7,457.9 312.7,471.7" fill="#1f1f1f"/>
<polygon points="482.2,464.8 470.2,457.9 470.2,471.7" fill="#1f1f1f"/>
<line x1="482.2" y1="453.8" x2="482.2" y2="506.0" stroke-width="1.35" stroke="#1f1f1f"/>
<g transform="translate(391.50,470.60)" fill="none" stroke="#1f1f1f" stroke-width="1.4" stroke-linecap="round" stroke-linejoin="round"><g transform="translate(-16.20,0)"><path d="M0,-10.1 L2,-11.4 L2,0"/></g><g transform="translate(-6.40,0)"><path d="M6.2,-11.4 L0,-2.8 L8.6,-2.8 M6.2,-11.4 L6.2,0"/></g><g transform="translate(8.40,0)"><ellipse cx="3.9" cy="-5.7" rx="3.9" ry="5.7"/></g></g>
<line x1="301.0" y1="487.4" x2="415.6" y2="487.4" stroke-width="1.35" stroke="#1f1f1f"/>
<line x1="459.6" y1="487.4" x2="562.7" y2="487.4" stroke-width="1.35" stroke="#1f1f1f"/>
<polygon points="300.7,487.4 312.7,480.5 312.7,494.3" fill="#1f1f1f"/>
<polygon points="574.4,487.4 562.4,480.5 562.4,494.3" fill="#1f1f1f"/>
<line x1="574.4" y1="476.7" x2="574.4" y2="609.3" stroke-width="1.35" stroke="#1f1f1f"/>
<g transform="translate(436.40,493.70)" fill="none" stroke="#1f1f1f" stroke-width="1.4" stroke-linecap="round" stroke-linejoin="round"><g transform="translate(-11.30,0)"><path d="M0.2,-8.3 C0.4,-10.5 2,-11.4 3.8,-11.4 C5.8,-11.4 7.2,-10 7.2,-8.1 C7.2,-6.8 6.5,-5.8 5.6,-4.8 L0,0 L7.6,0"/></g><g transform="translate(1.00,0)"><path d="M0,-10.1 L2,-11.4 L2,0"/></g><g transform="translate(9.30,0)"><path d="M0,-10.1 L2,-11.4 L2,0"/></g></g>
<line x1="251.1" y1="531.8" x2="251.1" y2="686.0" stroke-width="1.35" stroke="#1f1f1f"/>
<polygon points="251.1,542.8 263.1,535.9 263.1,549.7" fill="#1f1f1f"/>
<polygon points="300.7,542.8 288.7,535.9 288.7,549.7" fill="#1f1f1f"/>
<g transform="translate(277.70,548.50)" fill="none" stroke="#1f1f1f" stroke-width="1.4" stroke-linecap="round" stroke-linejoin="round"><g transform="translate(-9.00,0)"><path d="M0.3,-9.4 C0.9,-10.8 2.2,-11.4 3.7,-11.4 C5.6,-11.4 6.8,-10.1 6.8,-8.6 C6.8,-7 5.5,-6.1 3.5,-6.1 C5.9,-6.1 7.4,-4.8 7.4,-3.1 C7.4,-1.1 5.8,0 3.7,0 C2,0 0.7,-0.8 0,-2.1"/></g><g transform="translate(1.00,0)"><path d="M1.4,0 L6.58,-4.46"/><circle cx="4.0" cy="-7.45" r="3.95"/></g></g>
<polygon points="300.7,542.8 312.7,535.9 312.7,549.7" fill="#1f1f1f"/>
<polygon points="393.0,542.8 381.0,535.9 381.0,549.7" fill="#1f1f1f"/>
<line x1="301.0" y1="542.8" x2="331.3" y2="542.8" stroke-width="1.35" stroke="#1f1f1f"/>
<line x1="364.7" y1="542.8" x2="381.6" y2="542.8" stroke-width="1.35" stroke="#1f1f1f"/>
<g transform="translate(345.90,548.50)" fill="none" stroke="#1f1f1f" stroke-width="1.4" stroke-linecap="round" stroke-linejoin="round"><g transform="translate(-8.75,0)"><path d="M0,-11.4 L8.4,-11.4 L1.6,0"/></g><g transform="translate(6.75,0)"><path d="M0,-10.1 L2,-11.4 L2,0"/></g></g>
<line x1="393.0" y1="531.8" x2="393.0" y2="608.0" stroke-width="1.35" stroke="#1f1f1f"/>
<path d="M269.6,772.9 L269.6,608.9 L574.3,609.3 L574.3,623.5 Q574.3,626.8 569.5,627.4" stroke="#1f1f1f" stroke-width="2.8" fill="none" />
<path d="M569.5,626.6 L347,632.6 Q333,635 331.3,652" stroke="#1f1f1f" stroke-width="1.2" fill="none" />
<path d="M537.3,634.4 L345,642.8 Q332.5,644.5 331.9,656 L332.4,772.9" stroke="#1f1f1f" stroke-width="2.8" fill="none" />
<path d="M341.7,644.4 L332.8,664.4" stroke="#1f1f1f" stroke-width="2.2" fill="none" />
<path d="M362.8,643.3 L332.8,704" stroke="#1f1f1f" stroke-width="1.2" fill="none" />
<path d="M382.2,648.9 L333.4,744" stroke="#1f1f1f" stroke-width="2.6" fill="none" />
<path d="M374.6,642.8 L378.8,652 L386.5,642.6" stroke="#1f1f1f" stroke-width="1.5" fill="none" />
<path d="M381.8,643 L386.8,642.6 L380,650.5 Z" stroke="#1f1f1f" stroke-width="0.8" fill="#1f1f1f" />
<path d="M537.2,633.3 L570,628.9 L571.6,633 L568.5,636.2 L546.1,645 L539.8,643.8 Z" stroke="#1f1f1f" stroke-width="1.4" fill="#1f1f1f" />
<path d="M539.9,634.9 L547.2,634.4 L548.1,640.8 L541.9,642 Z" stroke="#1f1f1f" stroke-width="0" fill="#fff" />
<path d="M550,636.6 L558.9,634.1 L559.5,636.1 L550.7,638.5 Z" stroke="#1f1f1f" stroke-width="0" fill="#fff" />
<path d="M561.7,631.6 L568.3,630.5 L569,632.6 L562.3,633.8 Z" stroke="#1f1f1f" stroke-width="0" fill="#fff" />
<rect x="250.3" y="686.5" width="19" height="6" fill="none" stroke="#1f1f1f" stroke-width="2"/>
<path d="M281.5,772.9 L280.6,718 L321,718 L320.6,772.9" stroke="#1f1f1f" stroke-width="2.4" fill="none" />
<path d="M281,722.6 Q301,722 321,722.6 M281.2,734.2 Q301,733.5 320.8,734.2" stroke="#1f1f1f" stroke-width="1.0" fill="none" />
<rect x="258.7" y="773.6" width="83.1" height="12.6" rx="1" fill="none" stroke="#1f1f1f" stroke-width="2.7"/>
<path d="M269.6,772.9 L332.4,772.9" stroke="#1f1f1f" stroke-width="2.7" fill="none" />
<line x1="343.0" y1="786.6" x2="648.5" y2="786.6" stroke-width="1.35" stroke="#1f1f1f"/>
<path d="M356.9,608.9 Q410,538 466.2,492.8 L482.2,506.4" stroke="#1f1f1f" stroke-width="2.8" fill="none" />
<path d="M482.2,506.4 L386.2,609.6 L407.5,609.6 L424,590.5 L440.5,572 L459,549.5 L479.5,519.5 L484,512 Z" stroke="#1f1f1f" stroke-width="0.6" fill="#1f1f1f" />
<circle cx="475.5" cy="527.0" r="2.9" fill="#1f1f1f"/>
<circle cx="466.6" cy="537.4" r="2.9" fill="#1f1f1f"/>
<circle cx="457.8" cy="547.9" r="2.9" fill="#1f1f1f"/>
<circle cx="448.9" cy="558.3" r="2.9" fill="#1f1f1f"/>
<circle cx="440.1" cy="568.7" r="2.9" fill="#1f1f1f"/>
<circle cx="431.2" cy="579.1" r="2.9" fill="#1f1f1f"/>
<circle cx="422.4" cy="589.6" r="2.9" fill="#1f1f1f"/>
<circle cx="413.5" cy="600.0" r="2.9" fill="#1f1f1f"/>
<rect x="463.2" y="528.7" width="4.2" height="2.6" fill="#fff" transform="rotate(-47 465.3 530.0)"/>
<rect x="455.1" y="537.3" width="4.2" height="2.6" fill="#fff" transform="rotate(-47 457.2 538.6)"/>
<rect x="447.1" y="545.9" width="4.2" height="2.6" fill="#fff" transform="rotate(-47 449.2 547.2)"/>
<rect x="439.0" y="554.5" width="4.2" height="2.6" fill="#fff" transform="rotate(-47 441.1 555.8)"/>
<rect x="430.9" y="563.1" width="4.2" height="2.6" fill="#fff" transform="rotate(-47 433.0 564.4)"/>
<rect x="422.9" y="571.6" width="4.2" height="2.6" fill="#fff" transform="rotate(-47 425.0 572.9)"/>
<rect x="414.8" y="580.2" width="4.2" height="2.6" fill="#fff" transform="rotate(-47 416.9 581.5)"/>
<rect x="406.7" y="588.8" width="4.2" height="2.6" fill="#fff" transform="rotate(-47 408.8 590.1)"/>
<rect x="398.7" y="597.4" width="4.2" height="2.6" fill="#fff" transform="rotate(-47 400.8 598.7)"/>
<rect x="390.6" y="606.0" width="4.2" height="2.6" fill="#fff" transform="rotate(-47 392.7 607.3)"/>
<line x1="441.0" y1="570.8" x2="509.6" y2="570.8" stroke-width="1.35" stroke="#1f1f1f"/>
<line x1="441.0" y1="570.8" x2="441.0" y2="813.7" stroke-width="1.35" stroke="#1f1f1f"/>
<polygon points="499.4,570.8 492.5,582.8 506.3,582.8" fill="#1f1f1f"/>
<line x1="499.4" y1="582.0" x2="499.4" y2="609.0" stroke-width="1.35" stroke="#1f1f1f"/>
<line x1="499.4" y1="638.0" x2="499.4" y2="662.0" stroke-width="1.35" stroke="#1f1f1f"/>
<line x1="499.4" y1="705.0" x2="499.4" y2="775.0" stroke-width="1.35" stroke="#1f1f1f"/>
<polygon points="499.4,786.6 492.5,774.6 506.3,774.6" fill="#1f1f1f"/>
<g transform="translate(499.70,682.00) rotate(-90) translate(0,5.70)" fill="none" stroke="#1f1f1f" stroke-width="1.4" stroke-linecap="round" stroke-linejoin="round"><g transform="translate(-15.30,0)"><path d="M0,-10.1 L2,-11.4 L2,0"/></g><g transform="translate(-6.20,0)"><path d="M6.6,-11.4 L1.42,-6.94"/><circle cx="4.0" cy="-3.95" r="3.95"/></g><g transform="translate(7.30,0)"><path d="M6.6,-11.4 L1.42,-6.94"/><circle cx="4.0" cy="-3.95" r="3.95"/></g></g>
<line x1="557.3" y1="641.0" x2="578.7" y2="702.0" stroke-width="1.35" stroke="#1f1f1f"/>
<line x1="557.3" y1="640.7" x2="623.0" y2="640.7" stroke-width="1.35" stroke="#1f1f1f"/>
<line x1="574.3" y1="609.4" x2="648.7" y2="609.4" stroke-width="1.35" stroke="#1f1f1f"/>
<line x1="556.7" y1="642.0" x2="556.7" y2="838.8" stroke-width="1.35" stroke="#1f1f1f"/>
<path d="M530.3,688.3 Q538,692 545.3,694.7" stroke="#1f1f1f" stroke-width="1.3" fill="none" />
<polygon points="556.6,695.2 545.3,688.7 545.3,701.7" fill="#1f1f1f"/>
<polygon points="575.3,691.9 584.0,681.3 588.9,693.5" fill="#1f1f1f"/>
<path d="M596.7,677.2 Q592,681.5 584.5,687.5" stroke="#1f1f1f" stroke-width="1.3" fill="none" />
<g transform="translate(523.80,680.90) rotate(47) translate(0,5.70)" fill="none" stroke="#1f1f1f" stroke-width="1.4" stroke-linecap="round" stroke-linejoin="round"><g transform="translate(-11.95,0)"><path d="M0.2,-8.3 C0.4,-10.5 2,-11.4 3.8,-11.4 C5.8,-11.4 7.2,-10 7.2,-8.1 C7.2,-6.8 6.5,-5.8 5.6,-4.8 L0,0 L7.6,0"/></g><g transform="translate(-2.00,0)"><ellipse cx="3.9" cy="-5.7" rx="3.9" ry="5.7"/></g><g transform="translate(8.15,0)"><circle cx="1.9" cy="-11.2" r="1.9"/></g></g>
<polygon points="611.7,640.7 604.8,652.7 618.6,652.7" fill="#1f1f1f"/>
<line x1="611.7" y1="652.0" x2="611.7" y2="691.7" stroke-width="1.35" stroke="#1f1f1f"/>
<line x1="611.7" y1="735.0" x2="611.7" y2="775.0" stroke-width="1.35" stroke="#1f1f1f"/>
<polygon points="611.7,786.6 604.8,774.6 618.6,774.6" fill="#1f1f1f"/>
<g transform="translate(611.90,712.50) rotate(-90) translate(0,5.70)" fill="none" stroke="#1f1f1f" stroke-width="1.4" stroke-linecap="round" stroke-linejoin="round"><g transform="translate(-11.00,0)"><path d="M0,-10.1 L2,-11.4 L2,0"/></g><g transform="translate(-3.40,0)"><path d="M0,-10.1 L2,-11.4 L2,0"/></g><g transform="translate(3.40,0)"><path d="M0.2,-8.3 C0.4,-10.5 2,-11.4 3.8,-11.4 C5.8,-11.4 7.2,-10 7.2,-8.1 C7.2,-6.8 6.5,-5.8 5.6,-4.8 L0,0 L7.6,0"/></g></g>
<polygon points="638.0,609.4 631.1,621.4 644.9,621.4" fill="#1f1f1f"/>
<line x1="638.0" y1="620.5" x2="638.0" y2="675.8" stroke-width="1.35" stroke="#1f1f1f"/>
<line x1="638.0" y1="719.2" x2="638.0" y2="775.0" stroke-width="1.35" stroke="#1f1f1f"/>
<polygon points="638.0,786.6 631.1,774.6 644.9,774.6" fill="#1f1f1f"/>
<g transform="translate(638.20,695.90) rotate(-90) translate(0,5.70)" fill="none" stroke="#1f1f1f" stroke-width="1.4" stroke-linecap="round" stroke-linejoin="round"><g transform="translate(-12.65,0)"><path d="M0,-10.1 L2,-11.4 L2,0"/></g><g transform="translate(-6.10,0)"><path d="M0.3,-9.4 C0.9,-10.8 2.2,-11.4 3.7,-11.4 C5.6,-11.4 6.8,-10.1 6.8,-8.6 C6.8,-7 5.5,-6.1 3.5,-6.1 C5.9,-6.1 7.4,-4.8 7.4,-3.1 C7.4,-1.1 5.8,0 3.7,0 C2,0 0.7,-0.8 0,-2.1"/></g><g transform="translate(4.25,0)"><path d="M0,-11.4 L8.4,-11.4 L1.6,0"/></g></g>
<line x1="301.0" y1="803.2" x2="347.6" y2="803.2" stroke-width="1.35" stroke="#1f1f1f"/>
<line x1="390.3" y1="803.2" x2="429.5" y2="803.2" stroke-width="1.35" stroke="#1f1f1f"/>
<polygon points="300.6,803.2 312.6,796.3 312.6,810.1" fill="#1f1f1f"/>
<polygon points="440.6,803.2 428.6,796.3 428.6,810.1" fill="#1f1f1f"/>
<g transform="translate(370.20,809.00)" fill="none" stroke="#1f1f1f" stroke-width="1.4" stroke-linecap="round" stroke-linejoin="round"><g transform="translate(-15.80,0)"><path d="M0,-10.1 L2,-11.4 L2,0"/></g><g transform="translate(-5.90,0)"><ellipse cx="3.9" cy="-5.7" rx="3.9" ry="5.7"/></g><g transform="translate(8.20,0)"><ellipse cx="3.8" cy="-8.55" rx="2.95" ry="2.85"/><ellipse cx="3.8" cy="-2.95" rx="3.8" ry="2.95"/></g></g>
<line x1="301.0" y1="828.5" x2="407.5" y2="828.5" stroke-width="1.35" stroke="#1f1f1f"/>
<line x1="450.3" y1="828.5" x2="545.0" y2="828.5" stroke-width="1.35" stroke="#1f1f1f"/>
<polygon points="300.6,828.5 312.6,821.6 312.6,835.4" fill="#1f1f1f"/>
<polygon points="556.6,828.5 544.6,821.6 544.6,835.4" fill="#1f1f1f"/>
<g transform="translate(430.70,834.10)" fill="none" stroke="#1f1f1f" stroke-width="1.4" stroke-linecap="round" stroke-linejoin="round"><g transform="translate(-12.75,0)"><path d="M0,-10.1 L2,-11.4 L2,0"/></g><g transform="translate(-6.40,0)"><path d="M1.4,0 L6.58,-4.46"/><circle cx="4.0" cy="-7.45" r="3.95"/></g><g transform="translate(4.35,0)"><path d="M0,-11.4 L8.4,-11.4 L1.6,0"/></g></g>
</svg>
</body></html>
